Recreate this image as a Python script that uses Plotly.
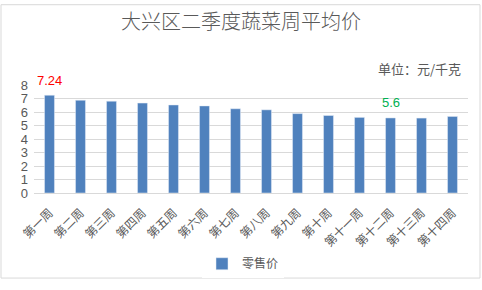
import plotly.graph_objects as go

weeks = ["第一周", "第二周", "第三周", "第四周", "第五周", "第六周", "第七周",
         "第八周", "第九周", "第十周", "第十一周", "第十二周", "第十三周", "第十四周"]
retail = [7.24, 6.87, 6.80, 6.66, 6.52, 6.45, 6.24, 6.16, 5.88, 5.74, 5.60, 5.56, 5.55, 5.67]
y_ticks = [0, 1, 2, 3, 4, 5, 6, 7, 8]

CJK = "Noto Sans CJK SC"
NUM = "Liberation Sans"
GRAY = "#595959"
PH = 113  # plot height in px
PW = 434

fig = go.Figure()
fig.add_trace(go.Bar(x=weeks, y=retail, name="零售价", marker_color="#4F81BD"))

fig.add_annotation(x=weeks[0], yref="paper", y=1 + 5 / PH, text="7.24", showarrow=False,
                   yanchor="middle", font=dict(family=NUM, size=13, color="#FF0000"))
fig.add_annotation(x=weeks[11], yref="paper", y=1 - 18 / PH, text="5.6", showarrow=False,
                   yanchor="middle", font=dict(family=NUM, size=13, color="#00B050"))
fig.add_annotation(xref="paper", yref="paper", x=1 - 5 / PW, y=1 + 17 / PH,
                   xanchor="right", yanchor="middle", text="单位：元/千克",
                   showarrow=False, font=dict(family=CJK, size=13, color=GRAY))

fig.update_layout(
    width=482, height=290,
    margin=dict(l=34, r=14, t=85, b=92),
    paper_bgcolor="white", plot_bgcolor="white",
    font=dict(family=CJK, color=GRAY),
    title=dict(text="大兴区二季度蔬菜周平均价", x=0.5, xanchor="center",
               y=1 - 22 / 290, yanchor="middle",
               font=dict(family=CJK, size=20, color=GRAY, weight=300)),
    bargap=0.68,
    showlegend=True,
    legend=dict(orientation="h", x=(202 - 34) / PW, xanchor="left", y=-(272 - 198) / PH,
                yanchor="middle", yref="paper", itemwidth=30,
                font=dict(family=CJK, size=12, color=GRAY)),
    xaxis=dict(tickangle=-45, tickfont=dict(family=CJK, size=12, color=GRAY),
               showline=True, linecolor="#D9D9D9", ticks="", showgrid=False,
               automargin=False, ticklabelstandoff=7),
    yaxis=dict(range=[0, 8], tickvals=y_ticks, tickfont=dict(family=NUM, size=13, color=GRAY),
               showgrid=True, gridcolor="#D9D9D9", zeroline=False, ticks="", showline=False,
               automargin=False, ticklabelstandoff=5),
    shapes=[dict(type="rect", xref="paper", yref="paper", x0=-33 / PW, x1=1 + 12 / PW,
                 y0=-89 / PH, y1=1 + 84 / PH, line=dict(color="#D9D9D9", width=1))],
)

fig.write_html("out.html")
